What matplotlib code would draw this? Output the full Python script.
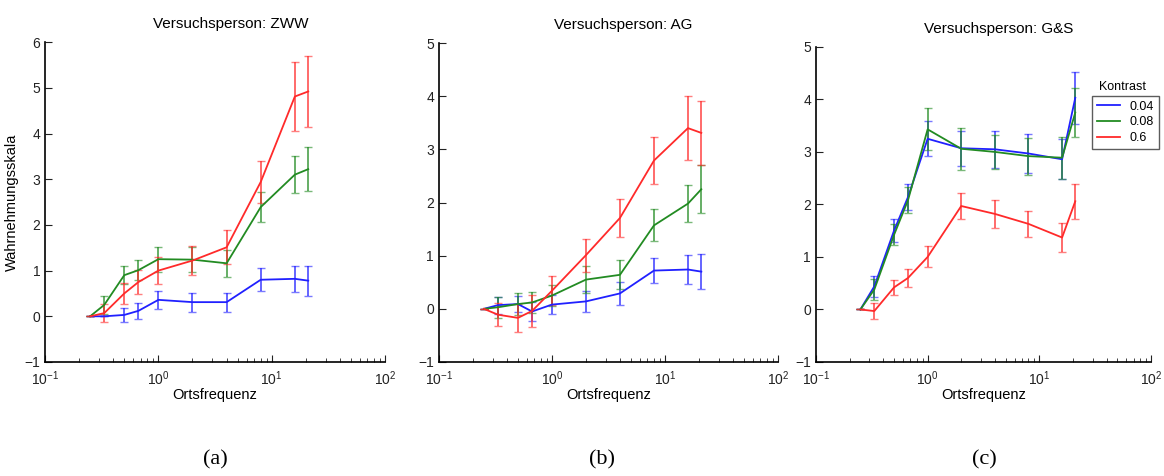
import numpy as np
import matplotlib.pyplot as plt
from matplotlib.lines import Line2D

plt.rcParams['font.family'] = ['Liberation Sans', 'DejaVu Sans']

# Ortsfrequenz (cycles/deg)
freq = [0.25, 0.333, 0.5, 0.667, 1, 2, 4, 8, 16, 21]
kontrast = ['0.04', '0.08', '0.6']
farben = ['#2020ff', '#228b22', '#ff2a2a']

# Versuchsperson ZWW
zww_mean = [
    [0, 0.0, 0.03, 0.12, 0.36, 0.31, 0.31, 0.80, 0.82, 0.78],
    [0, 0.25, 0.90, 1.01, 1.25, 1.24, 1.16, 2.39, 3.10, 3.22],
    [0, 0.07, 0.50, 0.75, 1.00, 1.22, 1.51, 2.94, 4.81, 4.92],
]
zww_err = [
    [0, 0.0, 0.16, 0.17, 0.20, 0.21, 0.21, 0.25, 0.28, 0.33],
    [0, 0.19, 0.20, 0.22, 0.27, 0.27, 0.29, 0.33, 0.40, 0.48],
    [0, 0.20, 0.22, 0.26, 0.30, 0.31, 0.37, 0.46, 0.76, 0.78],
]

# Versuchsperson AG
ag_mean = [
    [0, 0.07, 0.09, -0.05, 0.08, 0.14, 0.29, 0.72, 0.74, 0.70],
    [0, 0.03, 0.09, 0.12, 0.25, 0.55, 0.64, 1.57, 1.98, 2.25],
    [0, -0.11, -0.17, -0.04, 0.34, 1.01, 1.71, 2.79, 3.40, 3.31],
]
ag_err = [
    [0, 0.16, 0.15, 0.17, 0.18, 0.20, 0.21, 0.24, 0.28, 0.33],
    [0, 0.20, 0.20, 0.20, 0.20, 0.25, 0.27, 0.30, 0.35, 0.45],
    [0, 0.22, 0.27, 0.30, 0.27, 0.31, 0.36, 0.45, 0.60, 0.60],
]

# Versuchsperson G&S
gs_mean = [
    [0, 0.44, 1.50, 2.14, 3.25, 3.07, 3.05, 2.97, 2.86, 4.03],
    [0, 0.38, 1.42, 2.08, 3.43, 3.06, 3.00, 2.92, 2.89, 3.75],
    [0, -0.03, 0.42, 0.60, 1.00, 1.97, 1.82, 1.63, 1.37, 2.06],
]
gs_err = [
    [0, 0.20, 0.22, 0.25, 0.33, 0.33, 0.35, 0.38, 0.38, 0.50],
    [0, 0.20, 0.20, 0.25, 0.40, 0.40, 0.33, 0.35, 0.40, 0.47],
    [0, 0.15, 0.15, 0.18, 0.20, 0.25, 0.26, 0.25, 0.27, 0.33],
]

titel = ['Versuchsperson: ZWW', 'Versuchsperson: AG', 'Versuchsperson: G&S']
ymax = [6, 5, 5]
buchstaben = ['(a)', '(b)', '(c)']

fig = plt.figure(figsize=(11.64, 4.76), dpi=100)
positionen = [
    [0.0387, 0.2395, 0.2921, 0.672],
    [0.3771, 0.2395, 0.2912, 0.670],
    [0.7010, 0.2395, 0.2878, 0.662],
]
daten = [(zww_mean, zww_err), (ag_mean, ag_err), (gs_mean, gs_err)]
label_x = [0.185, 0.517, 0.846]

for i, (mean, err) in enumerate(daten):
    ax = fig.add_axes(positionen[i])
    for k in range(3):
        lines = ax.errorbar(freq, mean[k], yerr=err[k], color=farben[k], lw=1.3,
                            elinewidth=1.3, capsize=3, capthick=1.0)
        for bar in lines[2]:
            bar.set_alpha(0.75)
        for cap in lines[1]:
            cap.set_alpha(0.6)
    ax.set_xscale('log')
    ax.set_xlim(0.1, 100)
    ax.set_ylim(-1, ymax[i])
    ax.set_yticks(range(-1, ymax[i] + 1))
    ax.spines['top'].set_visible(False)
    ax.spines['right'].set_visible(False)
    ax.spines['left'].set_linewidth(1.2)
    ax.spines['bottom'].set_linewidth(1.2)
    ax.tick_params(which='both', direction='in', top=False, right=False,
                   labelsize=10, colors='#222222')
    ax.tick_params(axis='x', pad=5)
    ax.tick_params(which='major', length=5)
    ax.tick_params(which='minor', length=3)
    ax.set_xlabel('Ortsfrequenz', fontsize=10.5, labelpad=0)
    ax.set_title(titel[i], fontsize=11, x=0.545, pad=10)
    if i == 0:
        ax.set_ylabel('Wahrnehmungsskala', fontsize=10.5, labelpad=4)
    if i == 2:
        handles = [Line2D([], [], color=c, lw=1.3) for c in farben]
        leg = ax.legend(handles, kontrast, loc='upper left',
                        bbox_to_anchor=(0.825, 0.845),
                        fontsize=9, frameon=True, fancybox=False,
                        handlelength=1.8, borderpad=0.4, labelspacing=0.3,
                        borderaxespad=0)
        leg.get_frame().set_edgecolor('#333333')
        leg.get_frame().set_linewidth(1.0)
        ax.text(0.915, 0.855, 'Kontrast', transform=ax.transAxes, fontsize=9,
                ha='center', va='bottom')
    fig.text(label_x[i], 0.025, buchstaben[i], fontsize=16,
             family='Liberation Serif', ha='center')

fig.savefig('out.png', dpi=100)
